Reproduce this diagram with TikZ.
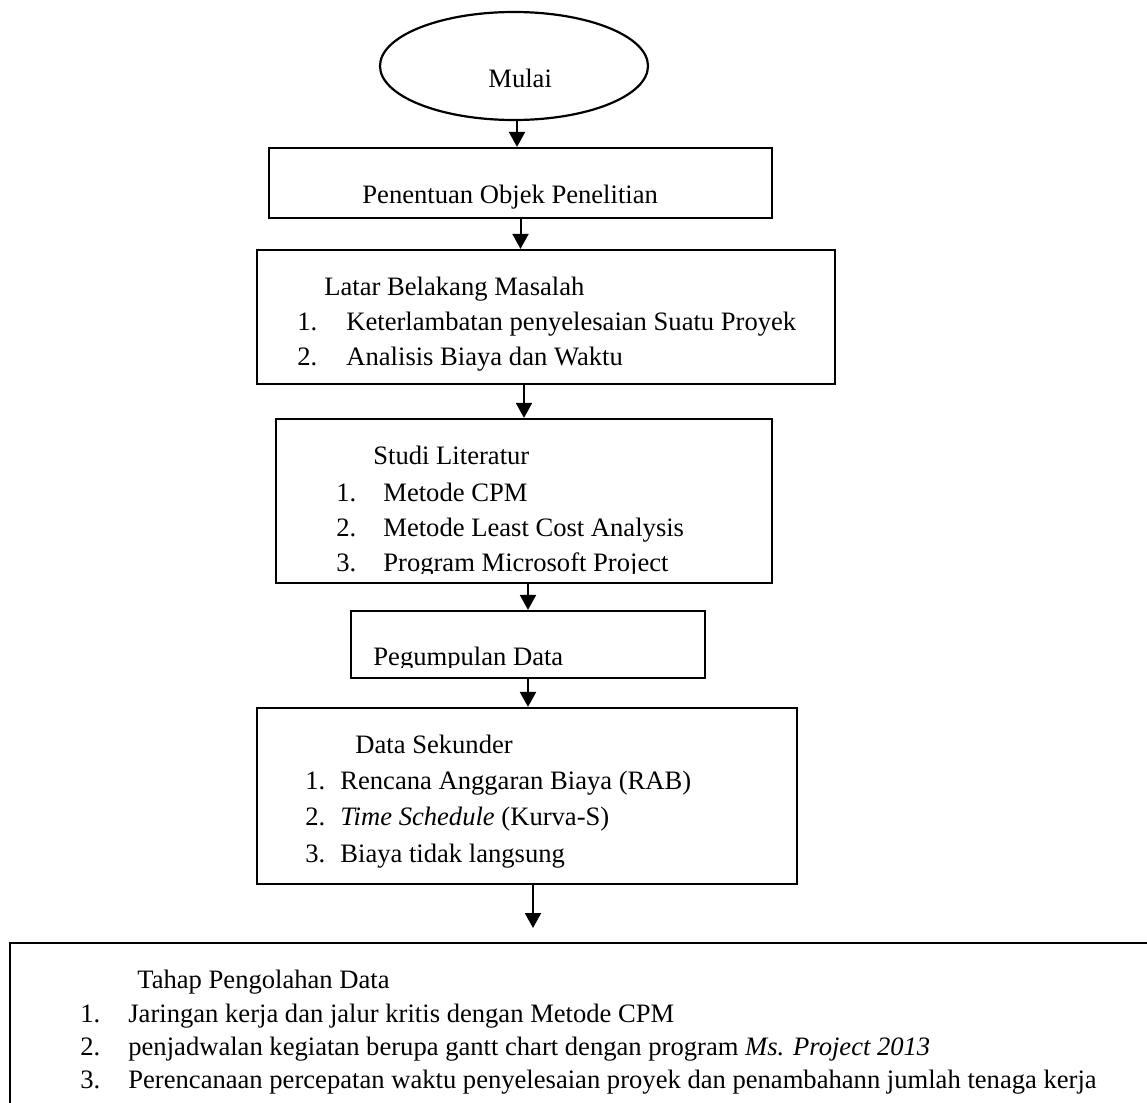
\documentclass[tikz,border=0pt]{standalone}
\usepackage{fontspec}
\setmainfont{Liberation Serif}
\usetikzlibrary{shapes.geometric,arrows.meta,fit}

\tikzset{
	box/.style={draw, line width=1.1pt, inner sep=0pt},
	txt/.style={anchor=base west, inner sep=0pt, font=\fontsize{13.3}{16}\selectfont},
	arr/.style={-{Triangle[length=7.5pt,width=8pt]}, line width=1pt},
}

\begin{document}
\begin{tikzpicture}[x=0.5pt, y=-0.5pt]
	\useasboundingbox (0,0) rectangle (1147,1103);
	\clip (0,0) rectangle (1147,1103);
	% boxes
	\node [ellipse, draw, line width=1.1pt, minimum width=134pt, minimum height=54pt, inner sep=0pt] (mulai) at (514,66) {};
	\node [box, fit={(269,148) (772,218)}] (objek) {};
	\node [box, fit={(257,250) (835,384)}] (latar) {};
	\node [box, fit={(276,419) (772,583)}] (studi) {};
	\node [box, fit={(351,611) (705,678)}] (kumpul) {};
	\node [box, fit={(257,708) (797,884)}] (sekunder) {};
	\node [box, line width=1.4pt, fit={(10,943) (1180,1140)}] (olah) {};
	% texts
	\node [txt] (mulaitxt) at (488,87) {Mulai};
	\node [txt] (objektxt) at (362,203) {Penentuan Objek Penelitian};
	\node [txt] (latartxt) at (324,295) {Latar Belakang Masalah};
	\node [txt] (latar1) at (297,330) {\makebox[24.5pt][l]{1.}Keterlambatan penyelesaian Suatu Proyek};
	\node [txt] (latar2) at (297,365) {\makebox[24.5pt][l]{2.}Analisis Biaya dan Waktu};
	\begin{scope}
		\clip (276,419) rectangle (772,573);
		\node [txt] (studitxt) at (373,464) {Studi Literatur};
		\node [txt] (studi1) at (336,501) {\makebox[23.5pt][l]{1.}Metode CPM};
		\node [txt] (studi2) at (336,536) {\makebox[23.5pt][l]{2.}Metode Least Cost Analysis};
		\node [txt] (studi3) at (336,571) {\makebox[23.5pt][l]{3.}Program Microsoft Project};
	\end{scope}
	\begin{scope}
		\clip (351,611) rectangle (705,667);
		\node [txt] (kumpultxt) at (373,665) {Pegumpulan Data};
	\end{scope}
	\node [txt] (sekundertxt) at (355,753) {Data Sekunder};
	\node [txt] (sekunder1) at (305,789) {\makebox[17.5pt][l]{1.}Rencana Anggaran Biaya (RAB)};
	\node [txt] (sekunder2) at (305,825) {\makebox[17.5pt][l]{2.}\textit{Time Schedule} (Kurva-S)};
	\node [txt] (sekunder3) at (305,862) {\makebox[17.5pt][l]{3.}Biaya tidak langsung};
	\node [txt] (olahtxt) at (137,988) {Tahap Pengolahan Data};
	\node [txt] (olah1) at (80,1022) {\makebox[24pt][l]{1.}Jaringan kerja dan jalur kritis dengan Metode CPM};
	\node [txt] (olah2) at (80,1055) {\makebox[24pt][l]{2.}penjadwalan kegiatan berupa gantt chart dengan program \textit{Ms. Project 2013}};
	\node [txt] (olah3) at (80,1088) {\makebox[24pt][l]{3.}Perencanaan percepatan waktu penyelesaian proyek dan penambahann jumlah tenaga kerja};
	% arrows
	\coordinate (mulaiout) at ([xshift=1.5pt]mulai.south);
	\coordinate (olahtip) at (533,928);
	\draw [arr] (mulaiout) -- (mulaiout |- objek.north);
	\draw [arr] (objek.south) -- (objek.south |- latar.north);
	\draw [arr] (studi.north |- latar.south) -- (studi.north);
	\draw [arr] (kumpul.north |- studi.south) -- (kumpul.north);
	\draw [arr] (kumpul.south) -- (kumpul.south |- sekunder.north);
	\draw [arr] (sekunder.south -| olahtip) -- (olahtip);
\end{tikzpicture}
\end{document}
